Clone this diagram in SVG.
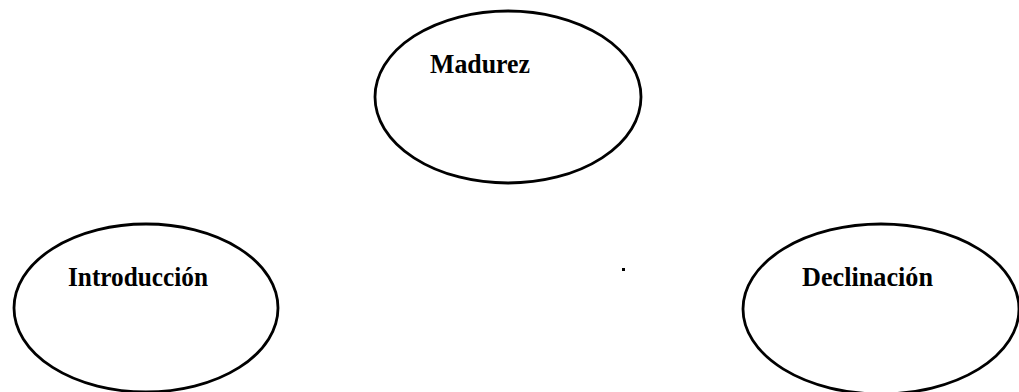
<svg xmlns="http://www.w3.org/2000/svg" width="1019" height="392" viewBox="0 0 1019 392">
<style>
.node ellipse{fill:none;stroke:#000;stroke-width:2.8}
.node text{font-family:"Liberation Serif","Times New Roman",serif;font-weight:bold;font-size:28px;fill:#000}
</style>
<rect width="1019" height="392" fill="#fff"/>
<g id="madurez" class="node">
<ellipse cx="508" cy="97" rx="133" ry="86"/>
<text x="430" y="73" textLength="100" lengthAdjust="spacingAndGlyphs">Madurez</text>
</g>
<g id="introduccion" class="node">
<ellipse cx="146" cy="308" rx="132" ry="84"/>
<text x="68" y="286" textLength="140" lengthAdjust="spacingAndGlyphs">Introducción</text>
</g>
<g id="declinacion" class="node">
<ellipse cx="881" cy="309" rx="138" ry="85"/>
<text x="802" y="286" textLength="131" lengthAdjust="spacingAndGlyphs">Declinación</text>
</g>
<g id="connectors"></g>
<rect x="622" y="268" width="3" height="3" fill="#000"/>
</svg>
